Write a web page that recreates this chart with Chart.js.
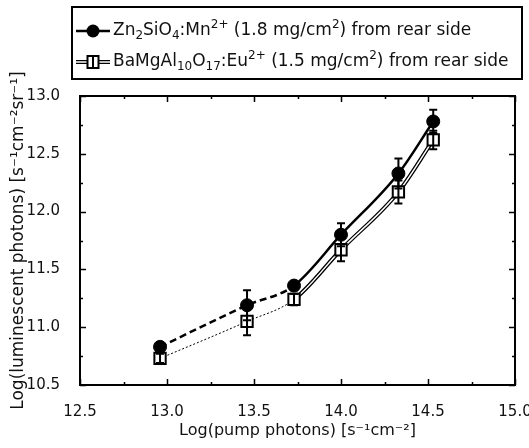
<!DOCTYPE html>
<html>
<head>
<meta charset="utf-8">
<script src="https://cdn.jsdelivr.net/npm/chart.js@4.4.0/dist/chart.umd.min.js"></script>
<style>
  body { margin: 0; background: #fff; }
  #wrap { width: 529px; height: 448px; }
</style>
</head>
<body>
<div id="wrap"><canvas id="lumChart" width="529" height="448"></canvas></div>
<script>
// log pump photon flux vs log luminescent photons, two phosphors
const pumpLog = [12.96, 13.46, 13.73, 14.00, 14.33, 14.53];
const znLum = [10.83, 11.19, 11.36, 11.80, 12.33, 12.78];
const znErr = [0.04, 0.13, 0.04, 0.10, 0.13, 0.10];
const baLum = [10.73, 11.05, 11.24, 11.67, 12.17, 12.62];
const baErr = [0.04, 0.12, 0.05, 0.10, 0.10, 0.08];
const seriesLabels = [
  'Zn₂SiO₄:Mn²⁺ (1.8 mg/cm²) from rear side',
  'BaMgAl₁₀O₁₇:Eu²⁺ (1.5 mg/cm²) from rear side'
];
const xTickVals = [12.5, 13.0, 13.5, 14.0, 14.5, 15.0];
const yTickVals = [10.5, 11.0, 11.5, 12.0, 12.5, 13.0];

const FONT = 'DejaVu Sans';
const pts = (ys) => pumpLog.map((x, i) => ({ x: x, y: ys[i] }));
const lowPart = (c) => c.p0DataIndex < 2;

// frame with inward major/minor ticks on all four sides
const frameTicks = {
  id: 'frameTicks',
  afterDraw(chart) {
    const { ctx, chartArea: a, scales: { x, y } } = chart;
    ctx.save();
    ctx.strokeStyle = '#000';
    ctx.lineWidth = 2;
    ctx.strokeRect(a.left, a.top, a.right - a.left, a.bottom - a.top);
    ctx.lineWidth = 1.5;
    const isMajor = (v) => Math.abs(v / 0.5 - Math.round(v / 0.5)) < 1e-6;
    ctx.beginPath();
    for (let v = x.min; v <= x.max + 1e-9; v += 0.25) {
      const px = Math.round(x.getPixelForValue(v)) + 0.5;
      const len = isMajor(v) ? 6 : 3;
      ctx.moveTo(px, a.bottom); ctx.lineTo(px, a.bottom - len);
      ctx.moveTo(px, a.top); ctx.lineTo(px, a.top + len);
    }
    for (let v = y.min; v <= y.max + 1e-9; v += 0.25) {
      const py = Math.round(y.getPixelForValue(v)) + 0.5;
      const len = isMajor(v) ? 6 : 3;
      ctx.moveTo(a.left, py); ctx.lineTo(a.left + len, py);
      ctx.moveTo(a.right, py); ctx.lineTo(a.right - len, py);
    }
    ctx.stroke();
    ctx.restore();
  }
};

// vertical error bars with caps
const errorBars = {
  id: 'errorBars',
  afterDatasetsDraw(chart) {
    const { ctx, scales: { y } } = chart;
    ctx.save();
    ctx.strokeStyle = '#000';
    ctx.lineWidth = 2;
    chart.data.datasets.forEach((ds, i) => {
      if (!ds.errors) return;
      chart.getDatasetMeta(i).data.forEach((el, j) => {
        const v = ds.data[j].y, e = ds.errors[j];
        const t = y.getPixelForValue(v + e), b = y.getPixelForValue(v - e);
        ctx.beginPath();
        ctx.moveTo(el.x, t); ctx.lineTo(el.x, b);
        ctx.moveTo(el.x - 4, t); ctx.lineTo(el.x + 4, t);
        ctx.moveTo(el.x - 4, b); ctx.lineTo(el.x + 4, b);
        ctx.stroke();
      });
    });
    ctx.restore();
  }
};

// draw a label, turning unicode sub/superscript chars into offset small text
const SUB = '₀₁₂₃₄₅₆₇₈₉', SUP = '⁰¹²³⁴⁵⁶⁷⁸⁹⁺⁻', SUPN = '0123456789+-';
function drawRich(ctx, text, x, y, size) {
  const runs = [];
  for (const ch of text) {
    let kind = 0, c = ch;
    if (SUB.includes(ch)) { kind = 1; c = String(SUB.indexOf(ch)); }
    else if (SUP.includes(ch)) { kind = -1; c = SUPN[SUP.indexOf(ch)]; }
    const last = runs[runs.length - 1];
    if (last && last.kind === kind) last.s += c; else runs.push({ kind: kind, s: c });
  }
  const small = Math.round(size * 0.7);
  for (const r of runs) {
    ctx.font = (r.kind ? small : size) + 'px "' + FONT + '"';
    const dy = r.kind === 1 ? size * 0.3 : r.kind === -1 ? -size * 0.35 : 0;
    ctx.fillText(r.s, x, y + dy);
    x += ctx.measureText(r.s).width;
  }
}

// boxed legend above the plot
const boxLegend = {
  id: 'boxLegend',
  afterDraw(chart) {
    const ctx = chart.ctx;
    const bx = 72, by = 7, bw = 450, bh = 72;
    ctx.save();
    ctx.fillStyle = '#fff';
    ctx.fillRect(bx, by, bw, bh);
    ctx.strokeStyle = '#000';
    ctx.lineWidth = 2;
    ctx.strokeRect(bx, by, bw, bh);
    const rows = [31, 62];
    const x0 = 76, x1 = 110, mx = 93;
    // row 1: solid line + filled circle
    ctx.lineWidth = 2.5;
    ctx.beginPath(); ctx.moveTo(x0, rows[0]); ctx.lineTo(x1, rows[0]); ctx.stroke();
    ctx.fillStyle = '#000';
    ctx.beginPath(); ctx.arc(mx, rows[0], 6.5, 0, Math.PI * 2); ctx.fill();
    // row 2: hollow double line + open square
    ctx.lineWidth = 4;
    ctx.beginPath(); ctx.moveTo(x0, rows[1]); ctx.lineTo(x1, rows[1]); ctx.stroke();
    ctx.strokeStyle = '#fff'; ctx.lineWidth = 1.5;
    ctx.beginPath(); ctx.moveTo(x0, rows[1]); ctx.lineTo(x1, rows[1]); ctx.stroke();
    ctx.fillStyle = '#fff'; ctx.strokeStyle = '#000'; ctx.lineWidth = 2;
    ctx.fillRect(mx - 5.5, rows[1] - 6, 11, 12);
    ctx.strokeRect(mx - 5.5, rows[1] - 6, 11, 12);
    ctx.beginPath(); ctx.moveTo(mx, rows[1] - 6); ctx.lineTo(mx, rows[1] + 6); ctx.stroke();
    ctx.fillStyle = '#111';
    ctx.textBaseline = 'middle';
    drawRich(ctx, seriesLabels[0], 113, rows[0], 17);
    drawRich(ctx, seriesLabels[1], 113, rows[1], 17);
    ctx.restore();
  }
};

new Chart(document.getElementById('lumChart'), {
  type: 'scatter',
  data: {
    datasets: [
      {
        label: seriesLabels[0], data: pts(znLum), errors: znErr,
        showLine: false, pointStyle: 'circle', pointRadius: 6.5,
        pointBackgroundColor: '#000', pointBorderColor: '#000', pointBorderWidth: 1
      },
      {
        label: seriesLabels[1], data: pts(baLum), errors: baErr,
        showLine: false, pointStyle: 'rect', pointRadius: 8,
        pointBackgroundColor: '#fff', pointBorderColor: '#000', pointBorderWidth: 2
      },
      {
        data: pts(znLum), showLine: true, pointRadius: 0,
        cubicInterpolationMode: 'monotone',
        borderColor: '#000', borderWidth: 2.5,
        segment: { borderDash: (c) => lowPart(c) ? [7, 4] : undefined }
      },
      {
        data: pts(baLum), showLine: true, pointRadius: 0,
        cubicInterpolationMode: 'monotone',
        borderColor: '#fff', borderWidth: 1.5,
        segment: { borderColor: (c) => lowPart(c) ? 'rgba(0,0,0,0)' : undefined }
      },
      {
        data: pts(baLum), showLine: true, pointRadius: 0,
        cubicInterpolationMode: 'monotone',
        borderColor: '#000', borderWidth: 4,
        segment: {
          borderWidth: (c) => lowPart(c) ? 1 : undefined,
          borderDash: (c) => lowPart(c) ? [2, 2] : undefined
        }
      }
    ]
  },
  options: {
    responsive: false,
    animation: false,
    layout: { padding: { top: 96, right: 14, left: 0, bottom: 0 } },
    plugins: { legend: { display: false }, tooltip: { enabled: false } },
    scales: {
      x: {
        type: 'linear', min: 12.5, max: 15.0,
        afterBuildTicks: (s) => { s.ticks = xTickVals.map((v) => ({ value: v })); },
        afterFit: (s) => { s.height = 63; s.paddingLeft = 0; s.paddingRight = 0; },
        grid: { display: false },
        border: { display: false },
        ticks: {
          padding: 10, color: '#111', maxRotation: 0,
          font: { family: FONT, size: 15 },
          callback: (v) => Number(v).toFixed(1)
        },
        title: {
          display: true, text: 'Log(pump photons) [s⁻¹cm⁻²]', color: '#111',
          font: { family: FONT, size: 16 }, padding: { top: 0, bottom: 8 }
        }
      },
      y: {
        type: 'linear', min: 10.5, max: 13.0,
        afterBuildTicks: (s) => { s.ticks = yTickVals.map((v) => ({ value: v })); },
        afterFit: (s) => { s.width = 80; s.paddingTop = 0; s.paddingBottom = 0; },
        grid: { display: false },
        border: { display: false },
        ticks: {
          padding: 12, color: '#111',
          font: { family: FONT, size: 15 },
          callback: (v) => Number(v).toFixed(1)
        },
        title: {
          display: true, text: 'Log(luminescent photons) [s⁻¹cm⁻²sr⁻¹]', color: '#111',
          font: { family: FONT, size: 17 }, padding: { top: 8, bottom: 0 }
        }
      }
    }
  },
  plugins: [frameTicks, errorBars, boxLegend]
});
</script>
</body>
</html>
